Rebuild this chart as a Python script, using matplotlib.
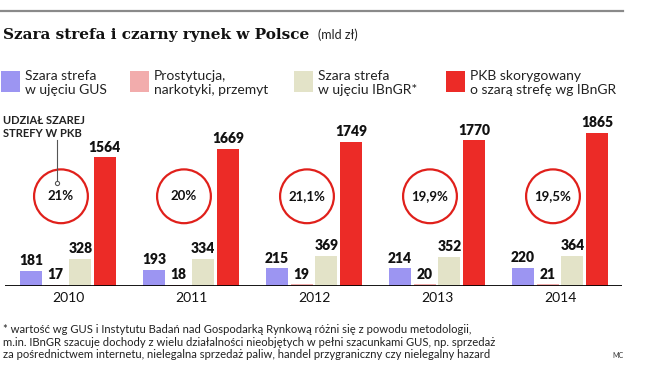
import matplotlib
matplotlib.use('Agg')
import matplotlib.pyplot as plt

# dane (mld zł)
years = ['2010', '2011', '2012', '2013', '2014']
gus = [181, 193, 215, 214, 220]
prostytucja = [17, 18, 19, 20, 21]
ibngr = [328, 334, 369, 352, 364]
pkb = [1564, 1669, 1749, 1770, 1865]
udzial = ['21%', '20%', '21,1%', '19,9%', '19,5%']

series_names = ['Szara strefa\nw ujęciu GUS', 'Prostytucja,\nnarkotyki, przemyt',
                'Szara strefa\nw ujęciu IBnGR*', 'PKB skorygowany\no szarą strefę wg IBnGR']
colors = ['#9c95f2', '#f2acac', '#e3e3c8', '#ec2b27']

W, H = 654, 376
SANS = 'Lato'


def px(x, y):
    # piksele -> współrzędne figury
    return x / W, 1 - y / H


fig = plt.figure(figsize=(W / 100, H / 100), dpi=100)
fig.patch.set_facecolor('white')

# linia na górze
fig.add_artist(plt.Line2D([0, 623 / W], [1 - 11 / H] * 2, color='#8a8a8a', lw=1.6))

# tytuł
fig.text(*px(3, 39), 'Szara strefa i czarny rynek w Polsce', family='DejaVu Serif',
         weight='bold', fontsize=11, va='baseline', ha='left', color='#111111')
fig.text(*px(318, 39), '(mld zł)', family=SANS, fontsize=9, va='baseline', ha='left', color='#222222')

# legenda
leg_x = [1, 130, 294, 446]
for lx, name, c in zip(leg_x, series_names, colors):
    fig.add_artist(plt.Rectangle(px(lx, 92), 19 / W, 21 / H, color=c, lw=0))
    fig.text(*px(lx + 24, 83), name, family=SANS, fontsize=10, va='center', ha='left',
             color='#222222', linespacing=1.2)

# wykres
ax = fig.add_axes([5 / W, 1 - 286 / H, 617 / W, 186 / H])
ax.set_xlim(-0.512, 4.504)
ax.set_ylim(0, 2260)
x = range(len(years))
offsets = [-0.3, -0.1, 0.1, 0.3]
for data, off, c in zip([gus, prostytucja, ibngr, pkb], offsets, colors):
    xs = [i + off for i in x]
    ax.bar(xs, data, width=0.18, color=c, zorder=2)
    for xi, v in zip(xs, data):
        ax.text(xi, v + 45, str(v), ha='center', va='bottom', family=SANS,
                weight='heavy', fontsize=10, color='#111111')

ax.axhline(0, color='black', lw=2, zorder=3)
for s in ax.spines.values():
    s.set_visible(False)
ax.set_yticks([])
ax.set_xticks(list(x))
ax.set_xticklabels(years, family=SANS, fontsize=10, color='#111111')
ax.tick_params(axis='x', length=0, pad=4)

# kółka z udziałem szarej strefy w PKB
circ_y = 1090
ax.scatter([i - 0.057 for i in x], [circ_y] * len(years), s=1500, facecolors='none',
           edgecolors='#e0201b', linewidths=1.6, zorder=4)
for i, t in zip(x, udzial):
    ax.text(i - 0.057, circ_y, t, ha='center', va='center', family=SANS,
            weight='bold', fontsize=9.5, color='#111111')

# opis kółek
fig.text(*px(3, 127), 'UDZIAŁ SZAREJ\nSTREFY W PKB', family=SANS, weight='bold',
         fontsize=8, va='center', ha='left', color='#222222', linespacing=1.2)
fig.add_artist(plt.Line2D([57 / W] * 2, [1 - 140 / H, 1 - 182 / H], color='#555555', lw=0.8))
fig.add_artist(plt.Line2D([57 / W], [1 - 183 / H], marker='o', ms=3, mfc='white',
                          mec='#555555', mew=0.8))

# przypis
note = ('* wartość wg GUS i Instytutu Badań nad Gospodarką Rynkową różni się z powodu metodologii,\n'
        'm.in. IBnGR szacuje dochody z wielu działalności nieobjętych w pełni szacunkami GUS, np. sprzedaż\n'
        'za pośrednictwem internetu, nielegalna sprzedaż paliw, handel przygraniczny czy nielegalny hazard')
fig.text(*px(3, 342), note, family=SANS, fontsize=8.1, va='center', ha='left',
         color='#222222', linespacing=1.15)
fig.text(*px(612, 355), 'MC', family=SANS, fontsize=5, va='center', ha='left', color='#333333')

fig.savefig('out.png', dpi=100)
